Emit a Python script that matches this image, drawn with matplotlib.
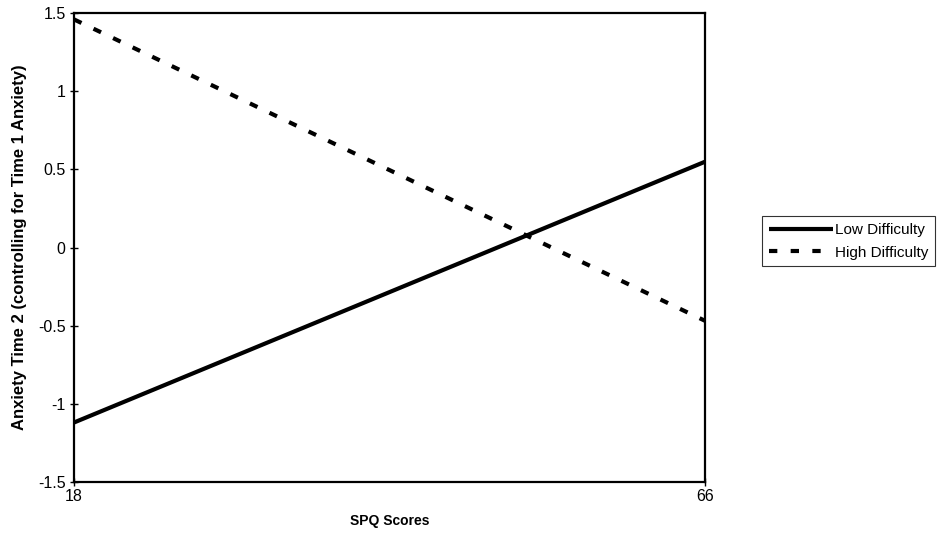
import matplotlib
matplotlib.use("Agg")
import matplotlib.pyplot as plt

plt.rcParams['font.family'] = ['Liberation Sans', 'DejaVu Sans']

# data
spq = [18, 66]
low_difficulty = [-1.12, 0.55]
high_difficulty = [1.46, -0.47]
y_ticks = [-1.5, -1, -0.5, 0, 0.5, 1, 1.5]
y_labels = ['-1.5', '-1', '-0.5', '0', '0.5', '1', '1.5']

fig = plt.figure(figsize=(9.41, 5.47), dpi=100)
ax = fig.add_axes([0.0786, 0.119, 0.671, 0.857])

ax.plot(spq, low_difficulty, color='black', lw=3, solid_capstyle='butt',
        label='Low Difficulty')
ax.plot(spq, high_difficulty, color='black', lw=3, dashes=(2, 3.2),
        label='High Difficulty')

ax.set_xlim(18, 66)
ax.set_ylim(-1.5, 1.5)
ax.set_xticks(spq)
ax.set_xticklabels([str(v) for v in spq])
ax.set_yticks(y_ticks)
ax.set_yticklabels(y_labels)

for s in ax.spines.values():
    s.set_linewidth(1.6)
ax.tick_params(direction='inout', length=6, width=1, labelsize=11.5)
ax.tick_params(axis='y', pad=3)
ax.tick_params(axis='x', pad=2)

ax.set_xlabel('SPQ Scores', fontsize=10, fontweight='bold', labelpad=7)
ax.set_ylabel('Anxiety Time 2 (controlling for Time 1 Anxiety)', fontsize=12,
              fontweight='bold', labelpad=8)

leg = ax.legend(loc='center left', bbox_to_anchor=(1.09, 0.513), fontsize=11,
                frameon=True, fancybox=False, handlelength=4.2,
                handletextpad=0.1, borderpad=0.45, labelspacing=0.55,
                borderaxespad=0)
leg.get_frame().set_edgecolor('black')
leg.get_frame().set_linewidth(0.8)

fig.savefig('out.png', dpi=100)
